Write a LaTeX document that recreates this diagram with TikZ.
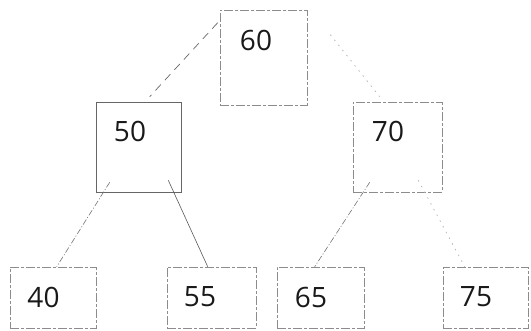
\documentclass[tikz,border=0pt]{standalone}
\usepackage{fontspec}
\setmainfont{Open Sans}
\begin{document}
\begin{tikzpicture}[x=1pt,y=-1pt,
  box/.style={draw=black!45,line width=0.6pt,dash pattern=on 9pt off 2pt on 3pt off 2pt,inner sep=0pt,minimum width=#1},
  box/.default=87pt,
  solidbox/.style={draw=black!60,line width=0.6pt,inner sep=0pt},
  num/.style={inner sep=0pt,font=\fontsize{28}{30}\selectfont,text=black!90},
  edgedash/.style={draw=black!60,line width=0.7pt,dash pattern=on 8pt off 6pt},
  edgedot/.style={draw=black!30,line width=0.7pt,dash pattern=on 1.5pt off 5pt},
  edgedashdot/.style={draw=black!55,line width=0.6pt,dash pattern=on 6pt off 2pt on 1pt off 2pt},
  edgesolid/.style={draw=black!65,line width=0.6pt}]
\useasboundingbox (0,0) rectangle (531,330);
% boxes
\node[box=87pt,minimum height=95pt] (n60) at (263.5,57.5) {};
\node[solidbox,minimum width=85pt,minimum height=90pt] (n50) at (138.5,147) {};
\node[box=89pt,minimum height=90pt] (n70) at (397.5,147) {};
\node[box=86pt,minimum height=61pt] (n40) at (53,297.5) {};
\node[box=89pt,minimum height=61pt] (n55) at (211.5,297.5) {};
\node[box=87pt,minimum height=61pt] (n65) at (320.5,297.5) {};
\node[box=85pt,minimum height=61pt] (n75) at (485.5,297.5) {};
% labels
\node[num] (t60) at (256,40) {60};
\node[num] (t50) at (130,131) {50};
\node[num] (t70) at (388,131) {70};
\node[num] (t40) at (43.5,297) {40};
\node[num] (t55) at (200,297) {55};
\node[num] (t65) at (311,297) {65};
\node[num] (t75) at (476,297) {75};
% connectors
\draw[edgedash] ([shift={(-2,13)}]n60.north west) -- ([shift={(54,-5)}]n50.north west);
\draw[edgedot] ([shift={(23,25)}]n60.north east) -- ([shift={(27,-5)}]n70.north west);
\draw[edgedashdot] ([shift={(14,-10)}]n50.south west) -- ([shift={(47,0)}]n40.north west);
\draw[edgesolid] ([shift={(-13,-12)}]n50.south east) -- ([shift={(41,0)}]n55.north west);
\draw[edgedashdot] ([shift={(17,-10)}]n70.south west) -- ([shift={(38,0)}]n65.north west);
\draw[edgedot] ([shift={(-24,-12)}]n70.south east) -- ([shift={(22,0)}]n75.north west);
\end{tikzpicture}
\end{document}
